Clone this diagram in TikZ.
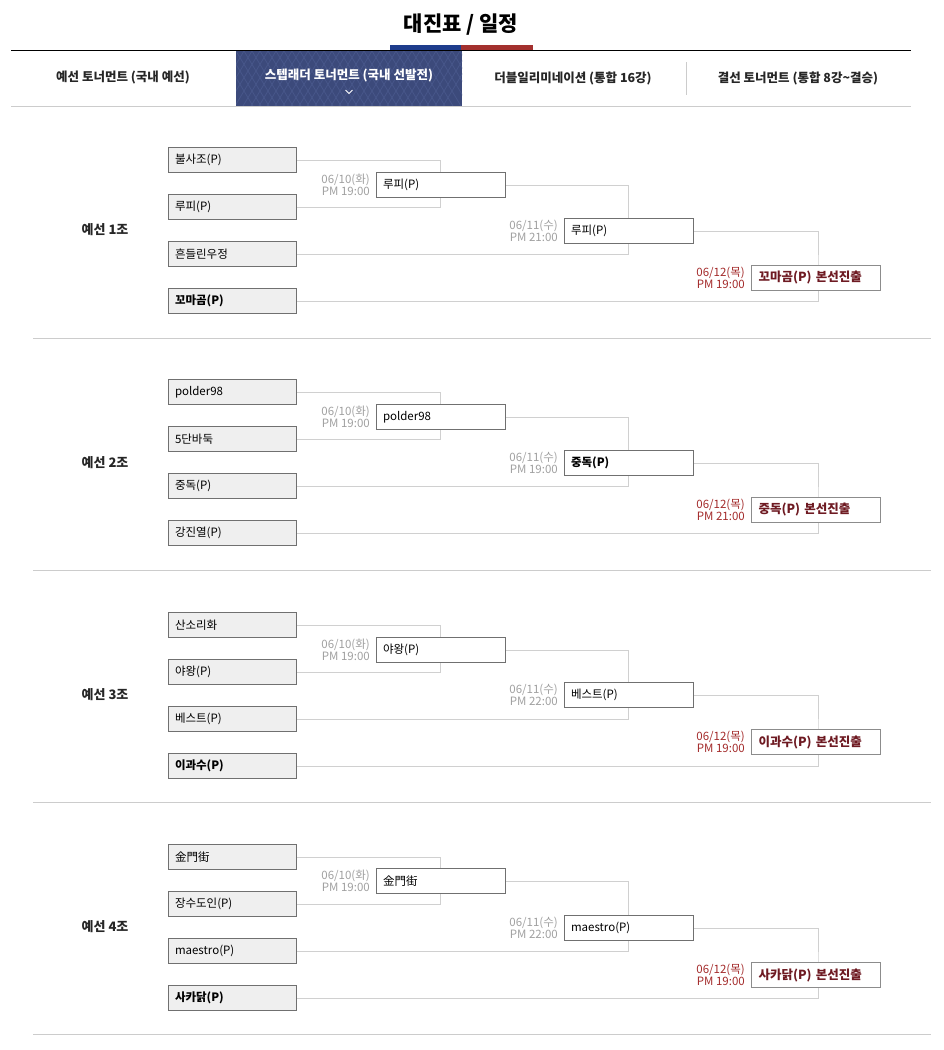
\documentclass[tikz,border=0pt]{standalone}
\usepackage{fontspec}
\setmainfont{Noto Sans CJK KR}
\usetikzlibrary{positioning, backgrounds}

\definecolor{boxline}{HTML}{707070}
\definecolor{boxfill}{HTML}{EFEFEF}
\definecolor{linkgray}{HTML}{D0D0D0}
\definecolor{dategray}{HTML}{A0A0A0}
\definecolor{datered}{HTML}{A32A2A}
\definecolor{finred}{HTML}{6E1A22}
\definecolor{tabnavy}{HTML}{3C4A7B}
\definecolor{tabdiamond}{HTML}{475689}
\definecolor{lineblue}{HTML}{1E3C8C}
\definecolor{linered}{HTML}{A3302E}

\tikzset{
  seedbox/.style = {rectangle, draw=boxline, fill=boxfill, line width=1pt, minimum height=25pt,
                    text width=114pt, inner xsep=7pt, align=left, font=\fontsize{11.5}{13}\selectfont},
  winbox/.style  = {seedbox, fill=white, text width=115pt},
  finbox/.style  = {winbox, draw=gray!90, text=finred, font=\fontsize{12.5}{14}\selectfont\bfseries},
  datetxt/.style = {anchor=east, align=right, inner sep=0pt, text=dategray, font=\fontsize{11.5}{12}\selectfont},
  findate/.style = {datetxt, text=datered},
  grplbl/.style  = {font=\fontsize{13}{15}\selectfont\bfseries, text=black!85},
  tablbl/.style  = {font=\fontsize{12.5}{15}\selectfont\bfseries, text=black!85},
  link/.style    = {draw=linkgray, line width=1pt},
  sepline/.style = {draw=black!20, line width=1pt}
}

\begin{document}
\begin{tikzpicture}[x=1pt, y=-1pt, node distance=21pt]
  \useasboundingbox (0,0) rectangle (943,1050);

  % Kopf
  \node (title) at (461,25) {\fontsize{21}{24}\selectfont\bfseries 대진표 / 일정};
  \fill[lineblue] (390,45) rectangle (461,50);
  \fill[linered] (461,45) rectangle (533,50);

  % Reiter
  \fill[tabnavy] (236,51) rectangle (462,106);
  \begin{scope}
    \clip (236,51) rectangle (462,106);
    \foreach \k in {0,...,32} {
      \draw[tabdiamond, line width=0.8pt] (220+8*\k,51) -- ++(36,60);
      \draw[tabdiamond, line width=0.8pt] (220+8*\k,51) -- ++(-36,60);
    }
  \end{scope}
  \draw[black, line width=1.2pt] (11,50.5) -- (911,50.5);
  \draw[sepline] (11,106) -- (911,106);
  \draw[sepline] (686,62) -- (686,95);

  \node[tablbl] (tab1) at (123,78) {예선 토너먼트 (국내 예선)};
  \node[tablbl, text=white] (tab2) at (349,76) {스텝래더 토너먼트 (국내 선발전)};
  \node[tablbl] (tab3) at (573,78) {더블일리미네이션 (통합 16강)};
  \node[tablbl] (tab4) at (798,78) {결선 토너먼트 (통합 8강\textasciitilde 결승)};
  \draw[white, line width=1pt] (345.5,90) -- (349,93.5) -- (352.5,90);

  % Gruppe 1
  \node[grplbl] (g1lbl) at (105,230) {예선 1조};
  \node[seedbox] (g1s1) at (232,160) {불사조(P)};
  \node[seedbox, below=of g1s1] (g1s2) {루피(P)};
  \node[seedbox, below=of g1s2] (g1s3) {흔들린우정};
  \node[seedbox, below=of g1s3] (g1s4) {\textbf{꼬마곰(P)}};
  \node[winbox] (g1r1) at (440.5,185) {루피(P)};
  \node[datetxt] (g1d1) at (370,185) {06/10(화)\\PM 19:00};
  \node[winbox] (g1r2) at (628.5,231) {루피(P)};
  \node[datetxt] (g1d2) at (558,231) {06/11(수)\\PM 21:00};
  \node[finbox] (g1fin) at (816,278) {꼬마곰(P) 본선진출};
  \node[findate] (g1d3) at (745,278) {06/12(목)\\PM 19:00};
  \begin{scope}[on background layer]
    \draw[link] (g1s1.east) -| (g1r1.center) |- (g1s2.east);
    \draw[link] (g1r1.east) -| (g1r2.center) |- (g1s3.east);
    \draw[link] (g1r2.east) -| ([xshift=2pt]g1fin.center) |- (g1s4.east);
  \end{scope}
  \draw[sepline] (33,338) -- (931,338);

  % Gruppe 2
  \node[grplbl] (g2lbl) at (105,463) {예선 2조};
  \node[seedbox] (g2s1) at (232,392) {polder98};
  \node[seedbox, below=of g2s1] (g2s2) {5단바둑};
  \node[seedbox, below=of g2s2] (g2s3) {중독(P)};
  \node[seedbox, below=of g2s3] (g2s4) {강진열(P)};
  \node[winbox] (g2r1) at (440.5,417) {polder98};
  \node[datetxt] (g2d1) at (370,417) {06/10(화)\\PM 19:00};
  \node[winbox] (g2r2) at (628.5,463) {\textbf{중독(P)}};
  \node[datetxt] (g2d2) at (558,463) {06/11(수)\\PM 19:00};
  \node[finbox] (g2fin) at (816,510) {중독(P) 본선진출};
  \node[findate] (g2d3) at (745,510) {06/12(목)\\PM 21:00};
  \begin{scope}[on background layer]
    \draw[link] (g2s1.east) -| (g2r1.center) |- (g2s2.east);
    \draw[link] (g2r1.east) -| (g2r2.center) |- (g2s3.east);
    \draw[link] (g2r2.east) -| ([xshift=2pt]g2fin.center) |- (g2s4.east);
  \end{scope}
  \draw[sepline] (33,570) -- (931,570);

  % Gruppe 3
  \node[grplbl] (g3lbl) at (105,695) {예선 3조};
  \node[seedbox] (g3s1) at (232,625) {산소리화};
  \node[seedbox, below=of g3s1] (g3s2) {야왕(P)};
  \node[seedbox, below=of g3s2] (g3s3) {베스트(P)};
  \node[seedbox, below=of g3s3] (g3s4) {\textbf{이과수(P)}};
  \node[winbox] (g3r1) at (440.5,650) {야왕(P)};
  \node[datetxt] (g3d1) at (370,650) {06/10(화)\\PM 19:00};
  \node[winbox] (g3r2) at (628.5,695) {베스트(P)};
  \node[datetxt] (g3d2) at (558,695) {06/11(수)\\PM 22:00};
  \node[finbox] (g3fin) at (816,742) {이과수(P) 본선진출};
  \node[findate] (g3d3) at (745,742) {06/12(목)\\PM 19:00};
  \begin{scope}[on background layer]
    \draw[link] (g3s1.east) -| (g3r1.center) |- (g3s2.east);
    \draw[link] (g3r1.east) -| (g3r2.center) |- (g3s3.east);
    \draw[link] (g3r2.east) -| ([xshift=2pt]g3fin.center) |- (g3s4.east);
  \end{scope}
  \draw[sepline] (33,802) -- (931,802);

  % Gruppe 4
  \node[grplbl] (g4lbl) at (105,927) {예선 4조};
  \node[seedbox] (g4s1) at (232,857) {金門街};
  \node[seedbox, below=of g4s1] (g4s2) {장수도인(P)};
  \node[seedbox, below=of g4s2] (g4s3) {maestro(P)};
  \node[seedbox, below=of g4s3] (g4s4) {\textbf{사카닭(P)}};
  \node[winbox] (g4r1) at (440.5,881) {金門街};
  \node[datetxt] (g4d1) at (370,881) {06/10(화)\\PM 19:00};
  \node[winbox] (g4r2) at (628.5,928) {maestro(P)};
  \node[datetxt] (g4d2) at (558,928) {06/11(수)\\PM 22:00};
  \node[finbox] (g4fin) at (816,975) {사카닭(P) 본선진출};
  \node[findate] (g4d3) at (745,975) {06/12(목)\\PM 19:00};
  \begin{scope}[on background layer]
    \draw[link] (g4s1.east) -| (g4r1.center) |- (g4s2.east);
    \draw[link] (g4r1.east) -| (g4r2.center) |- (g4s3.east);
    \draw[link] (g4r2.east) -| ([xshift=2pt]g4fin.center) |- (g4s4.east);
  \end{scope}
  \draw[sepline] (33,1034) -- (931,1034);
\end{tikzpicture}
\end{document}
